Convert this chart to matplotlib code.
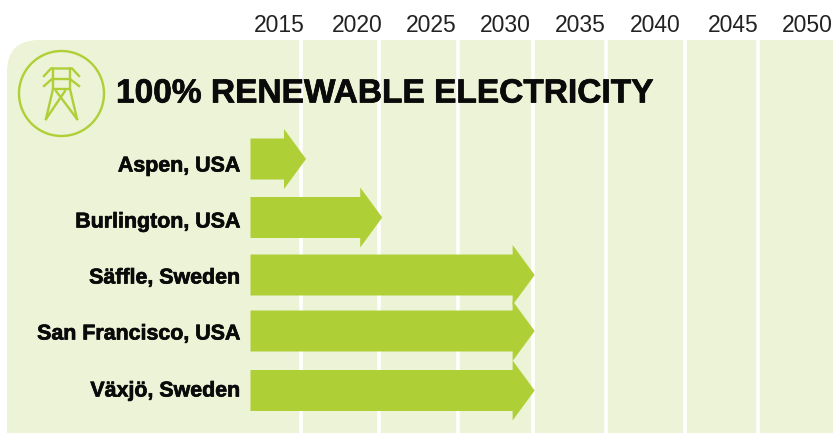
import matplotlib
matplotlib.use("Agg")
import matplotlib.pyplot as plt
import matplotlib.patheffects as pe
from matplotlib.patches import Circle, FancyBboxPatch, Polygon, Rectangle

# data
cities = ["Aspen, USA", "Burlington, USA", "Säffle, Sweden", "San Francisco, USA", "Växjö, Sweden"]
target_years = [2015, 2020, 2030, 2030, 2030]
tick_years = [2015, 2020, 2025, 2030, 2035, 2040, 2045, 2050]
title = "100% RENEWABLE ELECTRICITY"

PANEL = "#ecf3d6"
GREEN = "#afcf36"
INK = "#0a0a0a"

W, H = 833, 435
fig = plt.figure(figsize=(W / 100, H / 100), dpi=100)

# background layer in pixels, icon and panel live here
bg = fig.add_axes([0, 0, 1, 1])
bg.set_xlim(0, W)
bg.set_ylim(H, 0)
bg.axis("off")
bg.add_patch(FancyBboxPatch((7, 41), 900, 500, boxstyle="round,pad=0,rounding_size=32",
                            fc=PANEL, ec="none", clip_on=True))
bg.add_patch(Rectangle((0, 434), W, 1, fc="white", ec="none", zorder=1))

# icon
bg.add_patch(Circle((61.5, 94.5), 42.5, fc="none", ec=GREEN, lw=1.7, zorder=2))
tower = [
    [(44, 77), (51, 69.5), (72, 69.5), (79, 77)],
    [(44, 87), (52, 80), (70, 80), (79, 87)],
    [(53, 90), (69, 90)],
    [(53, 69.5), (53, 90), (46, 120)],
    [(70, 69.5), (70, 90), (77, 120)],
    [(46, 120), (65, 92)],
    [(77, 120), (56, 92)],
]
for pts in tower:
    bg.plot(*zip(*pts), color=GREEN, lw=1.7, solid_joinstyle="miter", zorder=2)

# chart axes, x in years, y is the row number
ax = fig.add_axes([0, 0, 1, 1], facecolor="none")
x_per_px = 5 / 76.2
ax.set_xlim(2015 - 301 * x_per_px, 2015 + (W - 301) * x_per_px)
ax.set_ylim(H, 0)
ax.axis("off")

# year columns are closed by a white rule
rule_nudge = [0, 0.12, 0.3, 0.22, 0, 0.2, 0]
for year, nudge in zip(tick_years[:-1], rule_nudge):
    ax.axvline(year + nudge, ymin=0, ymax=(H - 41) / H, color="white", lw=2.6, zorder=2)

label_nudge = [0, 0.13, 0, -0.15, -0.25, -0.33, -0.18, -0.37]
for year, nudge in zip(tick_years, label_nudge):
    ax.text(year - 1.44 + nudge, 26, str(year), ha="center", va="center", fontsize=16.5,
            family="Liberation Sans", color="#222222", zorder=5)

heavy = [pe.withStroke(linewidth=0.5, foreground=INK)]
ax.text(2015 - (301 - 116) * x_per_px, 95, title, ha="left", va="center", fontsize=24.1,
        family="Liberation Sans", weight="bold", color=INK, zorder=5, path_effects=heavy)

# arrows
row_y = [160, 218.5, 276, 332, 391.5]
label_y = [167, 223, 279, 335, 392]
start = 2015 - (301 - 250.5) * x_per_px
tip_over = 0.33
head_len = 22 * x_per_px
for city, year, y, ly in zip(cities, target_years, row_y, label_y):
    tip = year + tip_over
    base = tip - head_len
    pts = [(start, y - 20.5), (base, y - 20.5), (base, y - 30), (tip, y),
           (base, y + 30), (base, y + 20.5), (start, y + 20.5)]
    ax.add_patch(Polygon(pts, closed=True, fc=GREEN, ec="none", zorder=3))
    ax.text(2015 - (301 - 240.5) * x_per_px, ly, city, ha="right", va="center", fontsize=15.4,
            family="Liberation Sans", weight="bold", color=INK, zorder=5, path_effects=heavy)

fig.savefig("out.png", dpi=100)
